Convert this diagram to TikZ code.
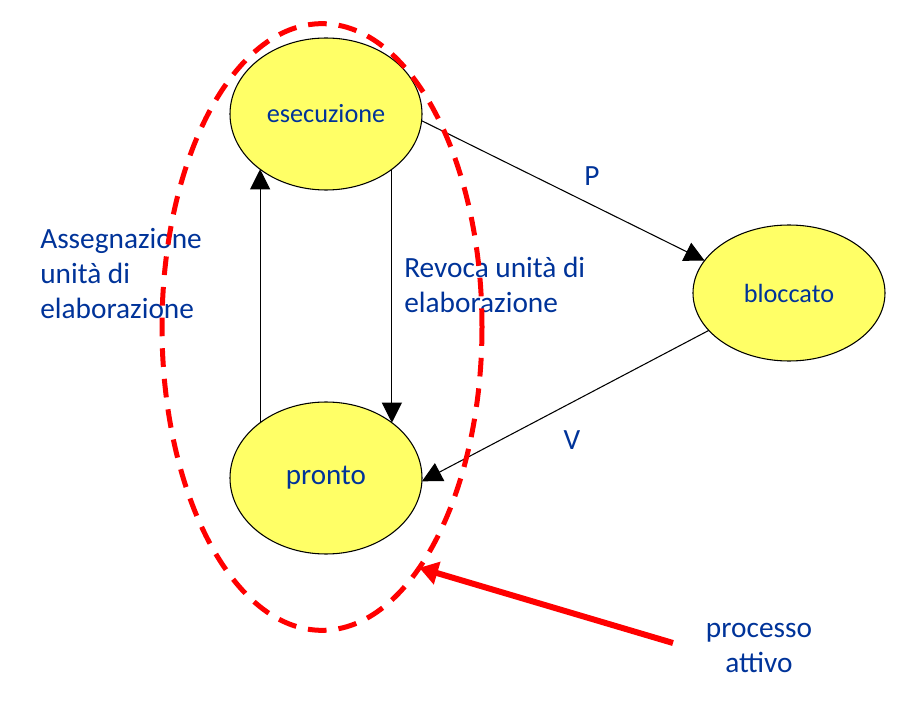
\documentclass[tikz,border=0pt]{standalone}
\usepackage{fontspec}
\setmainfont{Carlito}
\usetikzlibrary{arrows.meta,shapes.geometric}
\definecolor{txtblue}{RGB}{0,51,153}
\definecolor{stateyellow}{RGB}{255,255,102}
\tikzset{
    state/.style = {draw, ellipse, fill=stateyellow, line width=0.8pt,
        minimum width=144pt, minimum height=114pt,
        inner sep=0pt, outer sep=0pt, text=txtblue,
        font=\fontsize{19.7}{23}\selectfont},
    lbl/.style = {text=txtblue, inner sep=0pt,
        font=\fontsize{22}{26.25}\selectfont},
    arrow/.style = {draw, line width=0.8pt, -{Triangle[length=15pt,width=15pt]}},
    active/.style = {draw=red, ellipse, line width=3.75pt,
        dash pattern=on 14pt off 9pt, inner sep=0pt, outer sep=0pt,
        minimum width=240pt, minimum height=455pt},
    pointer/.style = {draw=red, line width=4.5pt, -{Triangle[length=14pt,width=17pt]}}
}

\begin{document}
\begin{tikzpicture}[x=0.75pt, y=-0.75pt]
    \useasboundingbox (0,0) rectangle (904,702);
    % states
    \node [state] (esec) at (326,114) {esecuzione};
    \node [state, font=\fontsize{21.8}{26}\selectfont] (pronto) at (326,478) {pronto};
    \node [state, minimum height=102pt] (blocc) at (789,293) {bloccato};
    % transitions
    \draw [arrow] (pronto.140) -- (esec.220);
    \draw [arrow] (esec.320) -- (pronto.40);
    \draw [arrow] (esec.-4) -- (blocc.159);
    \draw [arrow] (blocc.205) -- (pronto.-2);
    % labels
    \node [lbl, align=left, anchor=north west] (assegna) at (40,228) {Assegnazione\\unità di\\elaborazione};
    \node [lbl, align=left, anchor=north west] (revoca) at (404,257) {Revoca unità di\\elaborazione};
    \node [lbl] (p) at (592,176) {P};
    \node [lbl] (v) at (572,440) {V};
    \node [lbl, align=center] (attivo) at (759,648) {processo\\attivo};
    % active process
    \node [active] (group) at (322,327) {};
    \coordinate (tail) at (673,643);
    \draw [pointer] (tail) -- (group.-68);
\end{tikzpicture}
\end{document}
